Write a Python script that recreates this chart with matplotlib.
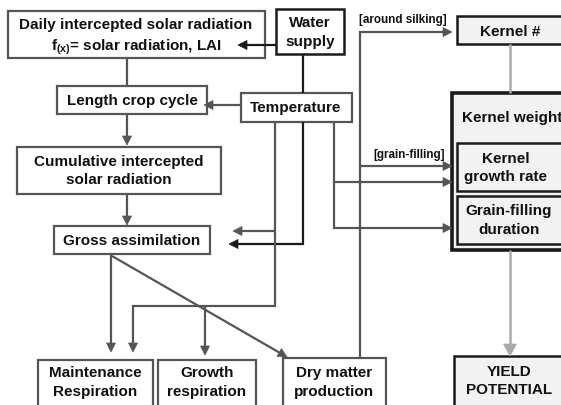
import matplotlib
matplotlib.use("Agg")
import matplotlib.pyplot as plt
from matplotlib.patches import Rectangle, Polygon
import numpy as np

plt.rcParams['font.family'] = ['Liberation Sans', 'DejaVu Sans']
plt.rcParams['mathtext.fontset'] = 'custom'
plt.rcParams['mathtext.bf'] = 'Liberation Sans:bold'
plt.rcParams['mathtext.rm'] = 'Liberation Sans:bold'
plt.rcParams['mathtext.default'] = 'bf'

# ---- text content ----
daily_lines = ["Daily intercepted solar radiation", r"f$_{(x)}$= solar radiation, LAI"]
water_lines = ["Water", "supply"]
length_label = "Length crop cycle"
temp_label = "Temperature"
cumul_lines = ["Cumulative intercepted", "solar radiation"]
gross_label = "Gross assimilation"
maint_lines = ["Maintenance", "Respiration"]
growth_lines = ["Growth", "respiration"]
dry_lines = ["Dry matter", "production"]
yield_lines = ["YIELD", "POTENTIAL"]
kernel_n_label = "Kernel #"
kernel_w_label = "Kernel weight"
kgr_lines = ["Kernel", "growth rate"]
gfd_lines = ["Grain-filling", "duration"]
silk_label = "[around silking]"
gf_label = "[grain-filling]"

GRAY = '#555555'
BLACK = '#1a1a1a'
LGRAY = '#aaaaaa'
FILL = '#f2f2f2'
FS = 11
SFS = 8.4

fig = plt.figure(figsize=(5.61, 4.06), dpi=100)
ax = fig.add_axes([0, 0, 1, 1])
ax.set_xlim(0, 561)
ax.set_ylim(406, 0)
ax.axis('off')


def box(x0, y0, x1, y1, ec=GRAY, fc='white', lw=1.6, z=2):
    ax.add_patch(Rectangle((x0, y0), x1 - x0, y1 - y0, ec=ec, fc=fc, lw=lw, zorder=z))


def txt(x, y, s, fs=FS, ha='center'):
    ax.text(x, y, s, fontsize=fs, fontweight='bold', ha=ha, va='center', color='#111111', zorder=6)


def path(pts, color=GRAY, lw=1.6, head=True, hl=9, hw=9, z=4):
    pts = [np.array(p, dtype=float) for p in pts]
    if head:
        tip = pts[-1]
        prev = pts[-2]
        d = tip - prev
        d = d / np.linalg.norm(d)
        n = np.array([-d[1], d[0]])
        base = tip - d * hl
        line = pts[:-1] + [base]
        tri = [tip, base + n * hw / 2, base - n * hw / 2]
        ax.add_patch(Polygon(tri, closed=True, fc=color, ec=color, lw=0.5, zorder=z))
    else:
        line = pts
    xs = [p[0] for p in line]
    ys = [p[1] for p in line]
    ax.plot(xs, ys, color=color, lw=lw, solid_capstyle='butt', solid_joinstyle='miter', zorder=z)


# ---- boxes (left / centre) ----
box(8, 12, 265, 59)
box(276, 10, 344, 55, ec=BLACK, lw=1.8)
box(57, 87, 207, 115)
box(241, 94, 352, 123)
box(17, 148, 221, 195)
box(54, 227, 210, 255)
box(38, 361, 153, 415)
box(158, 361, 256, 415)
box(283, 359, 386, 415)

# ---- boxes (right column) ----
box(457, 17, 580, 45, ec=BLACK, fc=FILL, lw=1.8)
box(452, 94, 580, 251, ec=BLACK, fc=FILL, lw=2.6)
box(457, 144, 580, 192, ec=BLACK, fc=FILL, lw=1.8, z=3)
box(457, 197, 580, 245, ec=BLACK, fc=FILL, lw=1.8, z=3)
box(454, 357, 580, 415, ec=BLACK, fc=FILL, lw=1.8)

# ---- texts ----
txt(136, 25, daily_lines[0])
txt(136, 47, daily_lines[1])
txt(310, 23, water_lines[0])
txt(310, 42, water_lines[1])
txt(132, 101, length_label)
txt(296, 108, temp_label)
txt(119, 162, cumul_lines[0])
txt(119, 180, cumul_lines[1])
txt(132, 241, gross_label)
txt(95, 373, maint_lines[0])
txt(95, 392, maint_lines[1])
txt(207, 373, growth_lines[0])
txt(207, 392, growth_lines[1])
txt(334, 373, dry_lines[0])
txt(334, 392, dry_lines[1])
txt(509, 372, yield_lines[0])
txt(509, 390, yield_lines[1])
txt(510, 32, kernel_n_label)
txt(462, 118, kernel_w_label, ha='left')
txt(506, 159, kgr_lines[0])
txt(506, 177, kgr_lines[1])
txt(509, 211, gfd_lines[0])
txt(509, 230, gfd_lines[1])
txt(403, 20, silk_label, fs=SFS)
txt(409, 155, gf_label, fs=SFS)

# ---- connectors ----
path([(127, 59), (127, 87)], head=False)
path([(127, 115), (127, 146)])
path([(127, 195), (127, 226)])
path([(241, 106), (204, 106)])
# water supply
path([(276, 46), (238, 46)], color=BLACK)
path([(303, 55), (303, 94)], color=BLACK, head=False)
path([(303, 123), (303, 245), (229, 245)], color=BLACK)
# temperature line A
path([(275, 123), (275, 307), (133, 307), (133, 353)])
path([(275, 232), (233, 232)])
path([(205, 307), (205, 356)])
# temperature line B
path([(334, 123), (334, 229), (452, 229)])
path([(334, 183), (452, 183)])
# dry matter feedback line
path([(360, 359), (360, 33), (452, 33)])
path([(360, 167), (452, 167)])
# gross assimilation outputs
path([(111, 255), (111, 353)])
path([(112, 257), (287, 358)])
# right column
path([(510, 45), (510, 94)], color=LGRAY, head=False, lw=1.8)
path([(510, 251), (510, 357)], color=LGRAY, lw=1.8, hl=12, hw=13)

fig.savefig('out.png', dpi=100)
